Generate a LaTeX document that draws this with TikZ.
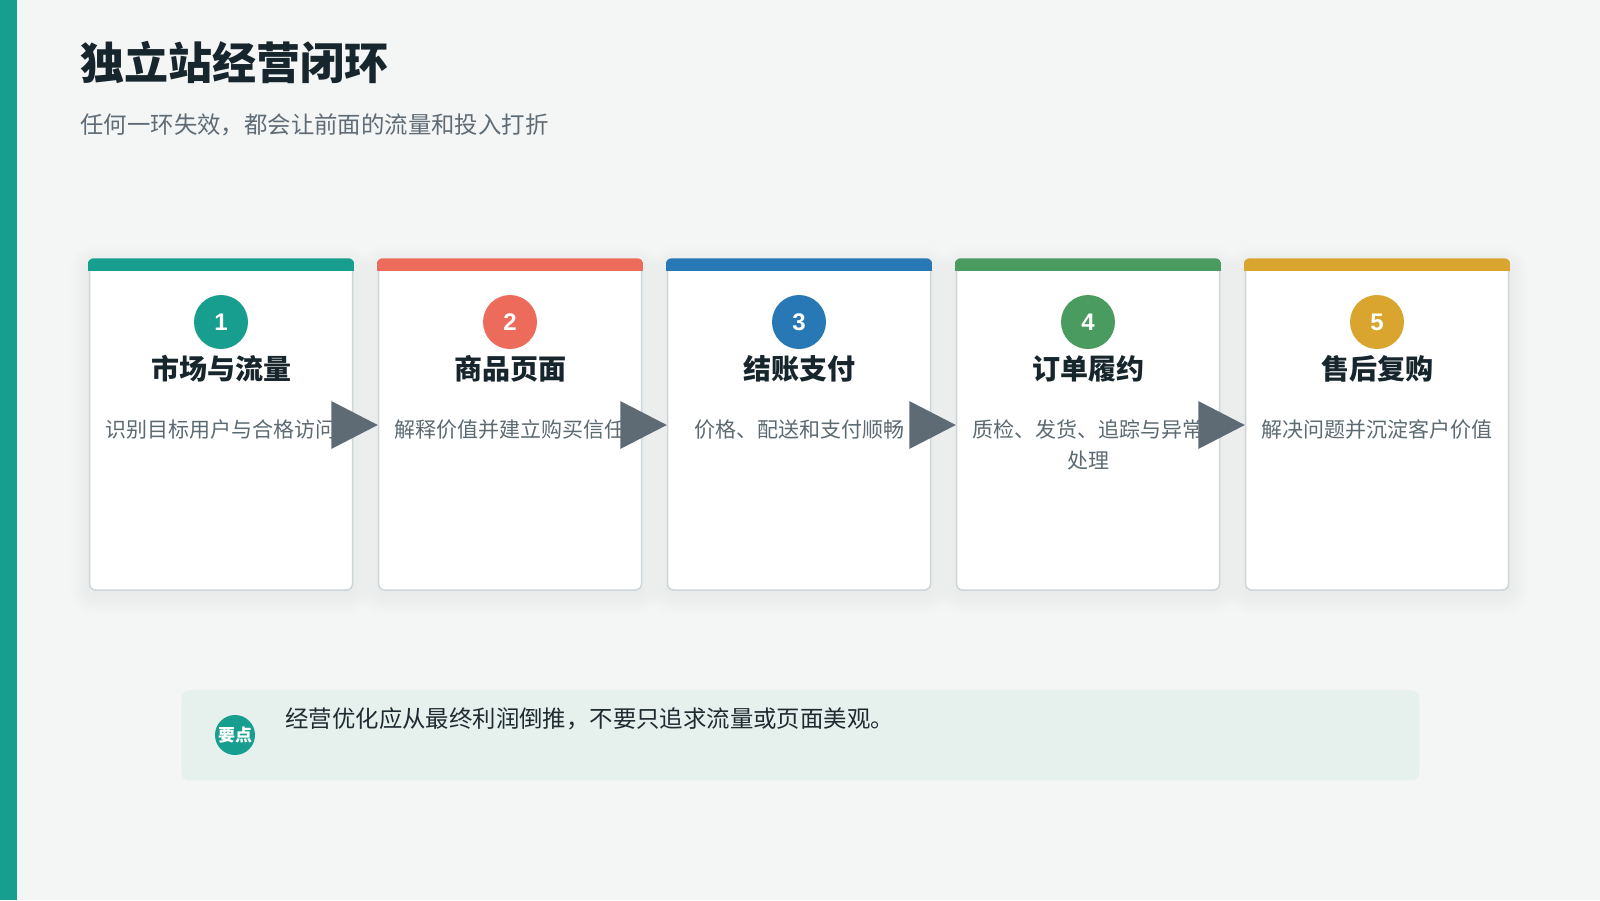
\documentclass[tikz,border=0pt]{standalone}
\usepackage{fontspec}
\setmainfont{Noto Sans CJK SC}
\newfontfamily\numfont{Liberation Sans}
\usetikzlibrary{calc}
\definecolor{bgc}{HTML}{F4F6F5}
\definecolor{tealc}{HTML}{179E8F}
\definecolor{redc}{HTML}{EC6B5B}
\definecolor{bluec}{HTML}{2878B5}
\definecolor{greenc}{HTML}{4A9B5F}
\definecolor{goldc}{HTML}{DAA52F}
\definecolor{titlec}{HTML}{17252D}
\definecolor{subc}{HTML}{5F6C75}
\definecolor{descc}{HTML}{5C6A72}
\definecolor{arrowc}{HTML}{5E6B74}
\definecolor{borderc}{HTML}{CCD6DA}
\definecolor{boxc}{HTML}{E6F0EC}
\definecolor{tipc}{HTML}{1E2B31}
\begin{document}
\begin{tikzpicture}[x=0.5pt,y=-0.5pt,
  card/.style={draw=borderc, line width=0.75pt, fill=white, rounded corners=3pt, minimum width=131.5pt, minimum height=165pt, inner sep=0pt},
  numc/.style={circle, inner sep=0pt, minimum size=27pt, text=white, font=\numfont\bfseries\fontsize{12}{12}\selectfont},
  ctitle/.style={anchor=base, inner sep=0pt, text=titlec, font=\bfseries\fontsize{14}{14}\selectfont},
  cdesc/.style={anchor=north, inner sep=0pt, text=descc, align=center, font=\fontsize{10.5}{15.3}\selectfont},
  flow/.style={fill=arrowc}
]
\useasboundingbox (0,0) rectangle (1600,900);
\fill[bgc] (0,0) rectangle (1600,900);
\fill[tealc] (0,0) rectangle (17,900);
\node[anchor=base west, inner sep=0pt, text=titlec, font=\bfseries\fontsize{22}{22}\selectfont] (title) at (80,79) {独立站经营闭环};
\node[anchor=base west, inner sep=0pt, text=subc, font=\fontsize{11.7}{11.7}\selectfont] (subtitle) at (80,133) {任何一环失效，都会让前面的流量和投入打折};
% shadows
\foreach \i in {1,...,5}{
  \pgfmathsetmacro\cx{221+289*(\i-1)}
  \foreach \k in {1,...,10}{
    \fill[black, opacity=0.0055, rounded corners={3pt+\k*1pt}] (\cx-131.5-2*\k,260-2*\k+5) rectangle (\cx+131.5+2*\k,590+2*\k+5);
  }
}
% cards
\foreach \i/\col/\ttl/\dsc in {1/tealc/市场与流量/识别目标用户与合格访问, 2/redc/商品页面/解释价值并建立购买信任, 3/bluec/结账支付/价格、配送和支付顺畅, 4/greenc/订单履约/{质检、发货、追踪与异常\\处理}, 5/goldc/售后复购/解决问题并沉淀客户价值}{
  \pgfmathsetmacro\cx{221+289*(\i-1)}
  \node[card] (c\i) at (\cx,425) {};
  \begin{scope}
    \clip[rounded corners=3pt] ($(c\i.north west)+(-1,-1)$) rectangle ($(c\i.south east)+(1,1)$);
    \fill[\col] ($(c\i.north west)+(-1,-1)$) rectangle ($(c\i.north east)+(1,12)$);
  \end{scope}
  \node[numc, fill=\col] (n\i) at (\cx,322) {\i};
  \node[ctitle] (t\i) at (\cx,379) {\ttl};
  \node[cdesc] (d\i) at (\cx,419.5) {\dsc};
}
% arrows
\foreach \a/\b in {1/2,2/3,3/4,4/5}{
  \fill[flow] ($(c\a.east)+(-22,-24)$) -- ($(c\a.east)+(-22,24)$) -- (c\b.west) -- cycle;
}
% key point box
\node[anchor=north west, fill=boxc, rounded corners=4pt, minimum width=619pt, minimum height=45pt, inner sep=0pt] (tip) at (181,690) {};
\node[circle, fill=tealc, minimum size=20pt, inner sep=0pt, text=white, font=\bfseries\fontsize{8.5}{8.5}\selectfont] (badge) at (235,735) {要点};
\node[anchor=base west, inner sep=0pt, text=tipc, font=\fontsize{11.7}{11.7}\selectfont] (tiptext) at (285,727) {经营优化应从最终利润倒推，不要只追求流量或页面美观。};
\end{tikzpicture}
\end{document}
